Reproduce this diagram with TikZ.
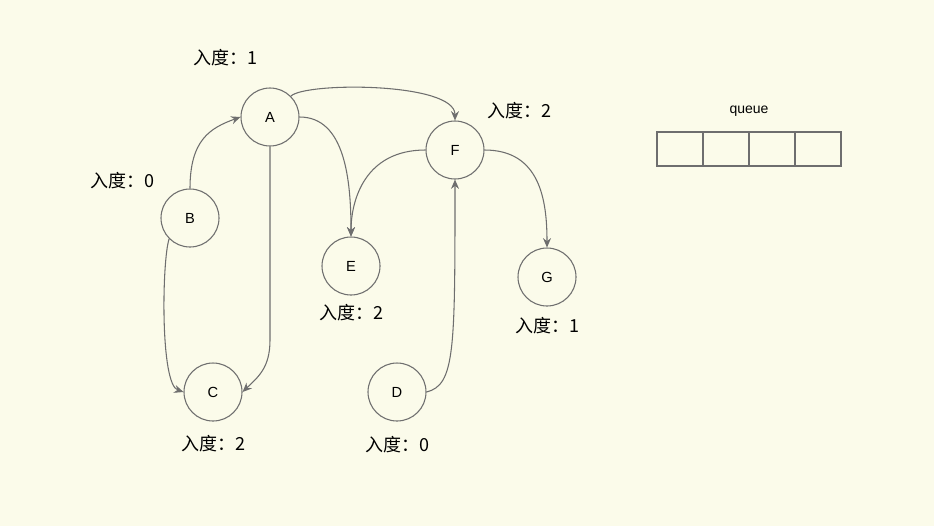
\documentclass[tikz,border=0pt]{standalone}
\usepackage{fontspec}
\setmainfont{Liberation Sans}
\newfontfamily\cjk{Noto Sans CJK SC}
\usetikzlibrary{arrows.meta}
\definecolor{bg}{HTML}{FBFBEA}
\definecolor{ln}{HTML}{6E6E6E}
\begin{document}
\begin{tikzpicture}[x=0.75pt,y=-0.75pt,
  vert/.style={circle,draw=ln,thick,minimum size=43.5pt,inner sep=0pt,font=\fontsize{11}{11}\selectfont},
  lbl/.style={font=\cjk\fontsize{13.5}{13.5}\selectfont},
  edge/.style={draw=ln,thick,-{Stealth[length=7pt,width=6pt]}},
  cell/.style={draw=ln,thick,minimum width=34.5pt,minimum height=25.5pt,inner sep=0pt}]
\fill[bg] (0,0) rectangle (934,526);
\useasboundingbox (0,0) rectangle (934,526);
\node[vert] (A) at (270,117) {A};
\node[vert] (B) at (190,218) {B};
\node[vert] (C) at (213,392) {C};
\node[vert] (D) at (397,392) {D};
\node[vert] (E) at (351,266) {E};
\node[vert] (F) at (455,150) {F};
\node[vert] (G) at (547,277) {G};
\node[lbl] (lA) at (225,58) {入度：1};
\node[lbl] (lB) at (122,181) {入度：0};
\node[lbl] (lF) at (519,111) {入度：2};
\node[lbl] (lE) at (351,313) {入度：2};
\node[lbl] (lG) at (547,326) {入度：1};
\node[lbl] (lC) at (213,444) {入度：2};
\node[lbl] (lD) at (397,445) {入度：0};
\draw[edge] (B.north) .. controls (190,140) and (210,128) .. (A.west);
\draw[edge] (A.south) -- (270,340) .. controls (270,368) and (258,377) .. (C.east);
\draw[edge] (B.south west) .. controls (162,260) and (160,384) .. (C.west);
\draw[edge] (A.north east) .. controls (305,82) and (455,82) .. (F.north);
\draw[edge] (A.east) .. controls (345,117) and (351,180) .. (E.north);
\draw[edge] (F.west) .. controls (365,150) and (351,200) .. (E.north);
\draw[edge] (F.east) .. controls (540,150) and (547,200) .. (G.north);
\draw[edge] (D.east) .. controls (455,385) and (455,350) .. (F.south);
\node[font=\fontsize{10.5}{10.5}\selectfont] (q) at (749,111) {queue};
\node[cell] (q1) at (680,149) {};
\node[cell] (q2) at (726,149) {};
\node[cell] (q3) at (772,149) {};
\node[cell] (q4) at (818,149) {};
\end{tikzpicture}
\end{document}
